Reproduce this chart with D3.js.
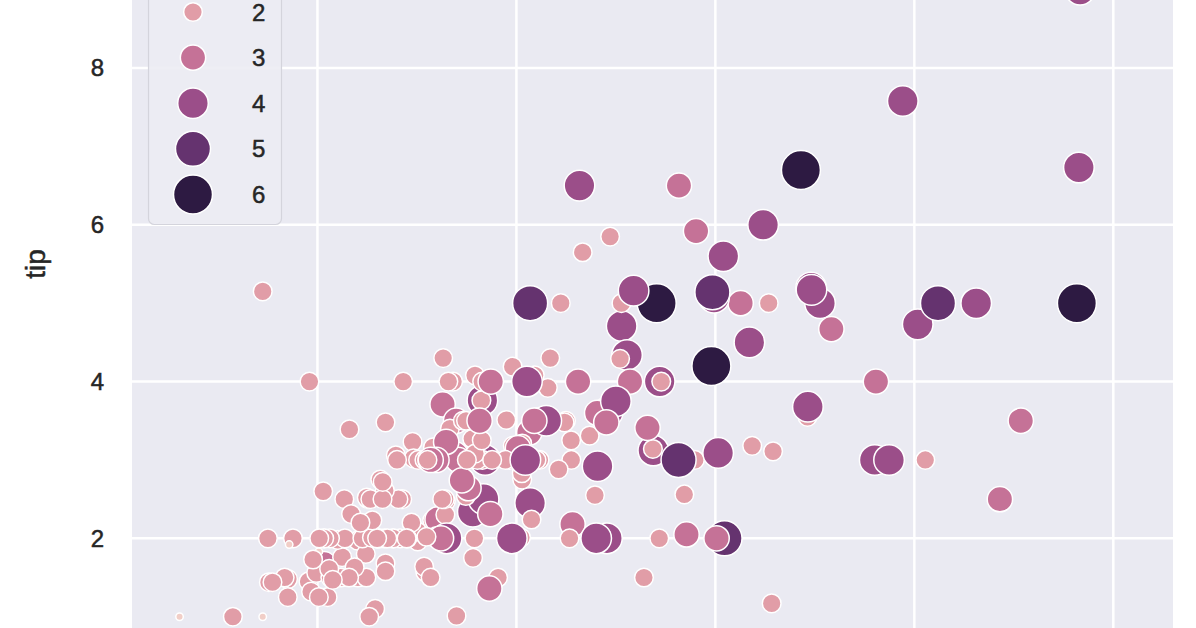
<!DOCTYPE html>
<html>
<head>
<meta charset="utf-8">
<script src="https://cdn.jsdelivr.net/npm/d3@7"></script>
<style>
  body { margin: 0; background: #fff; }
  text { font-family: "Liberation Sans", Arial, sans-serif; fill: #262626; }
</style>
</head>
<body>
<div id="chart"></div>
<script>
// tips dataset: total_bill, tip, size (row order kept, later rows drawn on top)
var totalBill = [16.99,10.34,21.01,23.68,24.59,25.29,8.77,26.88,15.04,14.78,10.27,35.26,15.42,18.43,14.83,21.58,10.33,16.29,16.97,20.65,
  17.92,20.29,15.77,39.42,19.82,17.81,13.37,12.69,21.7,19.65,9.55,18.35,15.06,20.69,17.78,24.06,16.31,16.93,18.69,31.27,
  16.04,17.46,13.94,9.68,30.4,18.29,22.23,32.4,28.55,18.04,12.54,10.29,34.81,9.94,25.56,19.49,38.01,26.41,11.24,48.27,
  20.29,13.81,11.02,18.29,17.59,20.08,16.45,3.07,20.23,15.01,12.02,17.07,26.86,25.28,14.73,10.51,17.92,27.2,22.76,17.29,
  19.44,16.66,10.07,32.68,15.98,34.83,13.03,18.28,24.71,21.16,28.97,22.49,5.75,16.32,22.75,40.17,27.28,12.03,21.01,12.46,
  11.35,15.38,44.3,22.42,20.92,15.36,20.49,25.21,18.24,14.31,14.0,7.25,38.07,23.95,25.71,17.31,29.93,10.65,12.43,24.08,
  11.69,13.42,14.26,15.95,12.48,29.8,8.52,14.52,11.38,22.82,19.08,20.27,11.17,12.26,18.26,8.51,10.33,14.15,16.0,13.16,
  17.47,34.3,41.19,27.05,16.43,8.35,18.64,11.87,9.78,7.51,14.07,13.13,17.26,24.55,19.77,29.85,48.17,25.0,13.39,16.49,
  21.5,12.66,16.21,13.81,17.51,24.52,20.76,31.71,10.59,10.63,50.81,15.81,7.25,31.85,16.82,32.9,17.89,14.48,9.6,34.63,
  34.65,23.33,45.35,23.17,40.55,20.69,20.9,30.46,18.15,23.1,15.69,19.81,28.44,15.48,16.58,7.56,10.34,43.11,13.0,13.51,
  18.71,12.74,13.0,16.4,20.53,16.47,26.59,38.73,24.27,12.76,30.06,25.89,48.33,13.27,28.17,12.9,28.15,11.59,7.74,30.14,
  12.16,13.42,8.58,15.98,13.42,16.27,10.09,20.45,13.28,22.12,24.01,15.69,11.61,10.77,15.53,10.07,12.6,32.83,35.83,29.03,
  27.18,22.67,17.82,18.78];
var tip = [1.01,1.66,3.5,3.31,3.61,4.71,2.0,3.12,1.96,3.23,1.71,5.0,1.57,3.0,3.02,3.92,1.67,3.71,3.5,3.35,
  4.08,2.75,2.23,7.58,3.18,2.34,2.0,2.0,4.3,3.0,1.45,2.5,3.0,2.45,3.27,3.6,2.0,3.07,2.31,5.0,
  2.24,2.54,3.06,1.32,5.6,3.0,5.0,6.0,2.05,3.0,2.5,2.6,5.2,1.56,4.34,3.51,3.0,1.5,1.76,6.73,
  3.21,2.0,1.98,3.76,2.64,3.15,2.47,1.0,2.01,2.09,1.97,3.0,3.14,5.0,2.2,1.25,3.08,4.0,3.0,2.71,
  3.0,3.4,1.83,5.0,2.03,5.17,2.0,4.0,5.85,3.0,3.0,3.5,1.0,4.3,3.25,4.73,4.0,1.5,3.0,1.5,
  2.5,3.0,2.5,3.48,4.08,1.64,4.06,4.29,3.76,4.0,3.0,1.0,4.0,2.55,4.0,3.5,5.07,1.5,1.8,2.92,
  2.31,1.68,2.5,2.0,2.52,4.2,1.48,2.0,2.0,2.18,1.5,2.83,1.5,2.0,3.25,1.25,2.0,2.0,2.0,2.75,
  3.5,6.7,5.0,5.0,2.3,1.5,1.36,1.63,1.73,2.0,2.5,2.0,2.74,2.0,2.0,5.14,5.0,3.75,2.61,2.0,
  3.5,2.5,2.0,2.0,3.0,3.48,2.24,4.5,1.61,2.0,10.0,3.16,5.15,3.18,4.0,3.11,2.0,2.0,4.0,3.55,
  3.68,5.65,3.5,6.5,3.0,5.0,3.5,2.0,3.5,4.0,1.5,4.19,2.56,2.02,4.0,1.44,2.0,5.0,2.0,2.0,
  4.0,2.01,2.0,2.5,4.0,3.23,3.41,3.0,2.03,2.23,2.0,5.16,9.0,2.5,6.5,1.1,3.0,1.5,1.44,3.09,
  2.2,3.48,1.92,3.0,1.58,2.5,2.0,3.0,2.72,2.88,2.0,3.0,3.39,1.47,3.0,1.25,1.0,1.17,4.67,5.92,
  2.0,2.0,1.75,3.0];
var partySize = [2,3,3,2,4,4,2,4,2,2,2,4,2,4,2,2,3,3,3,3,
  2,2,2,4,2,4,2,2,2,2,2,4,2,4,2,3,3,3,3,3,
  3,2,2,2,4,2,2,4,3,2,2,2,4,2,4,2,4,2,2,4,
  2,2,2,4,3,3,2,1,2,2,2,3,2,2,2,2,2,4,2,2,
  2,2,1,2,2,4,2,2,2,2,2,2,2,2,2,4,2,2,2,2,
  2,2,3,2,2,2,2,2,2,2,2,1,3,2,3,2,4,2,2,4,
  2,2,2,2,2,6,2,2,2,3,2,2,2,2,2,2,2,2,2,2,
  2,6,5,6,2,2,3,2,2,2,2,2,3,4,4,5,6,4,2,4,
  4,2,3,2,2,3,2,4,2,2,3,2,2,2,2,2,2,2,2,2,
  4,2,3,4,2,5,3,5,3,3,2,2,2,2,2,2,2,4,2,2,
  3,2,2,2,4,3,3,4,2,2,3,4,4,2,3,2,5,2,2,4,
  2,2,1,3,2,2,2,4,2,2,4,3,2,2,2,2,2,2,3,3,
  2,2,2,2];

var yTicks = [2, 4, 6, 8];
var xTicks = [10, 20, 30, 40, 50];
var legendSizes = [1, 2, 3, 4, 5, 6];

var svgWidth = 1196;
var svgHeight = 628;

var svg = d3.select("#chart")
  .append("svg")
  .attr("width", svgWidth)
  .attr("height", svgHeight);

// axes area runs past the top/bottom of the picture (it is a crop)
var plotLeft = 132, plotRight = 1173, plotTop = -124, plotBottom = 652;

var xScale = d3.scaleLinear().domain([0.68, 53.0]).range([plotLeft, plotRight]);
var yScale = d3.scaleLinear().domain([0.55, 10.45]).range([plotBottom, plotTop]);

// seaborn default "ch:" cubehelix (start=0, rot=.4, hue=.8, light=.85, dark=.15)
function cubehelix(x) {
  var amp = 0.8 * x * (1 - x) / 2;
  var phi = 2 * Math.PI * (0.4 * x);
  var c = Math.cos(phi), s = Math.sin(phi);
  var r = x + amp * (-0.14861 * c + 1.78277 * s);
  var g = x + amp * (-0.29227 * c - 0.90649 * s);
  var b = x + amp * (1.97294 * c);
  var clamp = function(v) { return Math.round(Math.max(0, Math.min(1, v)) * 255); };
  var col = d3.hsl(d3.rgb(clamp(r), clamp(g), clamp(b)));
  col.s = Math.min(1, col.s * 1.25); // the photo is a bit more saturated
  return col.formatHex();
}
var hueScale = d3.scaleLinear().domain([1, 6]).range([0.85, 0.15]);
var color = function(v) { return cubehelix(hueScale(v)); };

// marker area grows linearly with size
var areaScale = d3.scaleLinear().domain([1, 6]).range([14, 380]);
var radius = function(v) { return Math.sqrt(areaScale(v)); };

// background
svg.append("rect")
  .attr("x", plotLeft)
  .attr("y", plotTop)
  .attr("width", plotRight - plotLeft)
  .attr("height", plotBottom - plotTop)
  .attr("fill", "#eaeaf2");

// grid
svg.append("g")
  .selectAll("line")
  .data(xTicks)
  .enter()
  .append("line")
  .attr("x1", d => xScale(d))
  .attr("x2", d => xScale(d))
  .attr("y1", plotTop)
  .attr("y2", plotBottom)
  .attr("stroke", "#fff")
  .attr("stroke-width", 2.5);

svg.append("g")
  .selectAll("line")
  .data(yTicks)
  .enter()
  .append("line")
  .attr("x1", plotLeft)
  .attr("x2", plotRight)
  .attr("y1", d => yScale(d))
  .attr("y2", d => yScale(d))
  .attr("stroke", "#fff")
  .attr("stroke-width", 2.5);

// y axis labels
var leftAxis = d3.axisLeft(yScale)
  .tickValues(yTicks)
  .tickSize(0)
  .tickPadding(28)
  .tickFormat(d3.format("d"));

svg.append("g")
  .attr("transform", `translate(${plotLeft}, 0)`)
  .call(leftAxis)
  .call(g => g.select(".domain").remove())
  .selectAll("text")
  .style("font-size", "24px")
  .style("font-family", "Liberation Sans, Arial, sans-serif")
  .attr("fill", "#262626")
  .attr("stroke", "#262626")
  .attr("stroke-width", 0.5);

svg.append("text")
  .attr("transform", `translate(45, ${(plotTop + plotBottom) / 2}) rotate(-90)`)
  .attr("text-anchor", "middle")
  .attr("stroke", "#262626")
  .attr("stroke-width", 0.5)
  .style("font-size", "28px")
  .text("tip");

// points
var rows = totalBill.map(function(d, i) {
  return { bill: d, tip: tip[i], size: partySize[i] };
});

svg.append("g")
  .selectAll("circle")
  .data(rows)
  .enter()
  .append("circle")
  .attr("cx", d => xScale(d.bill))
  .attr("cy", d => yScale(d.tip))
  .attr("r", d => radius(d.size))
  .attr("fill", d => color(d.size))
  .attr("stroke", "#fff")
  .attr("stroke-width", 1.5);

// legend (its title and first entry sit above the cropped picture)
var legendTop = -118;
var legend = svg.append("g");

legend.append("rect")
  .attr("x", 148.5)
  .attr("y", legendTop)
  .attr("width", 133)
  .attr("height", 224.5 - legendTop)
  .attr("rx", 6)
  .attr("fill", "#ececf3")
  .attr("fill-opacity", 0.9)
  .attr("stroke", "#d4d4dc")
  .attr("stroke-width", 1.2);

var legendItems = legend.selectAll("g.item")
  .data(legendSizes)
  .enter()
  .append("g")
  .attr("class", "item")
  .attr("transform", d => `translate(0, ${12 + (d - 2) * 45.6})`);

legendItems.append("circle")
  .attr("cx", 193)
  .attr("cy", 0)
  .attr("r", d => radius(d))
  .attr("fill", d => color(d))
  .attr("stroke", "#fff")
  .attr("stroke-width", 1.5);

legendItems.filter(d => d > 1).append("text")
  .attr("x", 252)
  .attr("y", 0)
  .attr("dominant-baseline", "central")
  .attr("stroke", "#262626")
  .attr("stroke-width", 0.5)
  .style("font-size", "24px")
  .text(d => d);
</script>
</body>
</html>
